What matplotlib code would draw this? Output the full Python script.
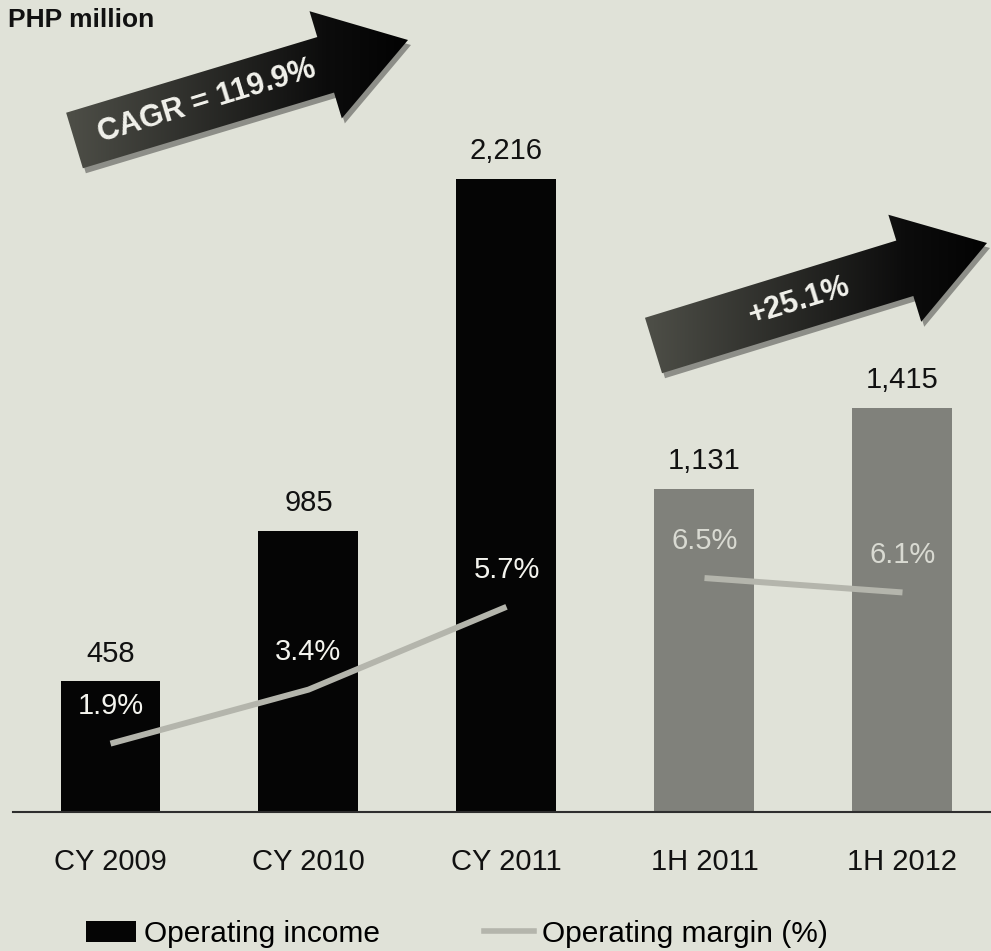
"""
Ingreso operativo (barras) y margen operativo (línea), CY 2009 - 1H 2012.
"""

import matplotlib.pyplot as plt
import numpy as np
from matplotlib.patches import FancyArrow, Patch
from matplotlib.lines import Line2D
from matplotlib.colors import LinearSegmentedColormap

plt.rcParams['font.family'] = ['Liberation Sans', 'DejaVu Sans']

periodos = ["CY 2009", "CY 2010", "CY 2011", "1H 2011", "1H 2012"]
ingreso = [458, 985, 2216, 1131, 1415]
etiquetas_ingreso = ["458", "985", "2,216", "1,131", "1,415"]
margen = [1.9, 3.4, 5.7, 6.5, 6.1]
etiquetas_margen = ["1.9%", "3.4%", "5.7%", "6.5%", "6.1%"]
crecimientos = ["CAGR = 119.9%", "+25.1%"]

FONDO = "#e0e2d8"
NEGRO = "#050505"
GRIS_BARRA = "#80817b"
GRIS_LINEA = "#b4b5ac"
colores_barra = [NEGRO] * 3 + [GRIS_BARRA] * 2
colores_margen = ["#f4f4ee"] * 3 + ["#d9dad2"] * 2


def flecha(capa, x0, y0, dx, dy, texto, tx, ty):
    forma = dict(width=58, head_width=112, head_length=86, length_includes_head=True)
    sombra = FancyArrow(x0 + 3, y0 + 5, dx, dy, color="#8d8e88", lw=0,
                        zorder=1, **forma)
    capa.add_patch(sombra)
    cuerpo = FancyArrow(x0, y0, dx, dy, facecolor="none", edgecolor="none",
                        zorder=2, **forma)
    capa.add_patch(cuerpo)
    # degradado gris -> negro hacia la punta
    cmap = LinearSegmentedColormap.from_list(
        "flecha", [(0, "#56574f"), (0.74, "#0c0c0c"), (1, "#000000")])
    grad = np.linspace(0, 1, 256).reshape(1, -1)
    img = capa.imshow(grad, cmap=cmap, aspect="auto", zorder=3,
                      extent=(x0 - 40, x0 + dx + 20, y0 + 80, y0 + dy - 80))
    img.set_clip_path(cuerpo)
    capa.text(tx, ty, texto, rotation=17, rotation_mode="anchor",
              ha="center", va="center", fontsize=22, fontweight="bold",
              color="#f2f2ec", zorder=4)


def main():
    fig = plt.figure(figsize=(9.91, 9.51), dpi=100, facecolor=FONDO)

    ax = fig.add_axes([13 / 991, 139 / 951, 978 / 991, 812 / 951])
    ax.patch.set_visible(False)
    x = np.arange(len(periodos))
    ax.bar(x, ingreso, width=0.505, color=colores_barra)
    ax.set_xlim(-0.4924, 4.447)
    ax.set_ylim(0, 2842)
    ax.set_xticks(x, periodos, fontsize=21, color="#111111")
    ax.tick_params(axis="x", length=0, pad=26)
    ax.set_yticks([])
    for lado in ["top", "left", "right"]:
        ax.spines[lado].set_visible(False)
    ax.spines["bottom"].set_color("#2e2e2e")
    ax.spines["bottom"].set_linewidth(1.5)

    for xi, v, t in zip(x, ingreso, etiquetas_ingreso):
        ax.annotate(t, (xi, v), xytext=(0, 14), textcoords="offset points",
                    ha="center", va="baseline", fontsize=21, color="#111111")

    # margen en eje secundario
    ax2 = ax.twinx()
    ax2.set_ylim(0, 22.56)
    ax2.set_axis_off()
    ax2.plot(x[:3], margen[:3], color=GRIS_LINEA, lw=4.3, solid_capstyle="butt")
    ax2.plot(x[3:], margen[3:], color=GRIS_LINEA, lw=4.3, solid_capstyle="butt")
    for xi, m, t, c in zip(x, margen, etiquetas_margen, colores_margen):
        ax2.annotate(t, (xi, m), xytext=(0, 21), textcoords="offset points",
                     ha="center", va="baseline", fontsize=21, color=c)

    # flechas de crecimiento
    capa = fig.add_axes([0, 0, 1, 1], zorder=10)
    flecha(capa, 74.5, 140.5, 333.5, -100.5, crecimientos[0], 207, 101)
    flecha(capa, 653.5, 345.5, 333.5, -102.5, crecimientos[1], 799, 301)
    capa.set_xlim(0, 991)
    capa.set_ylim(951, 0)
    capa.set_axis_off()

    fig.text(8 / 991, 1 - 20 / 951, "PHP million", fontsize=19,
             fontweight="bold", va="center", color="#111111")

    handles = [Patch(facecolor=NEGRO, edgecolor="none"),
               Line2D([], [], color=GRIS_LINEA, lw=4)]
    fig.legend(handles, ["Operating income", "Operating margin (%)"],
               loc="center left", bbox_to_anchor=(86 / 991, 1 - 934 / 951),
               ncol=2, frameon=False, fontsize=21.5, handlelength=1.67,
               handleheight=0.73, handletextpad=0.27, columnspacing=3.5,
               borderpad=0, borderaxespad=0)

    fig.savefig("out.png", dpi=100, facecolor=fig.get_facecolor())


if __name__ == "__main__":
    main()
